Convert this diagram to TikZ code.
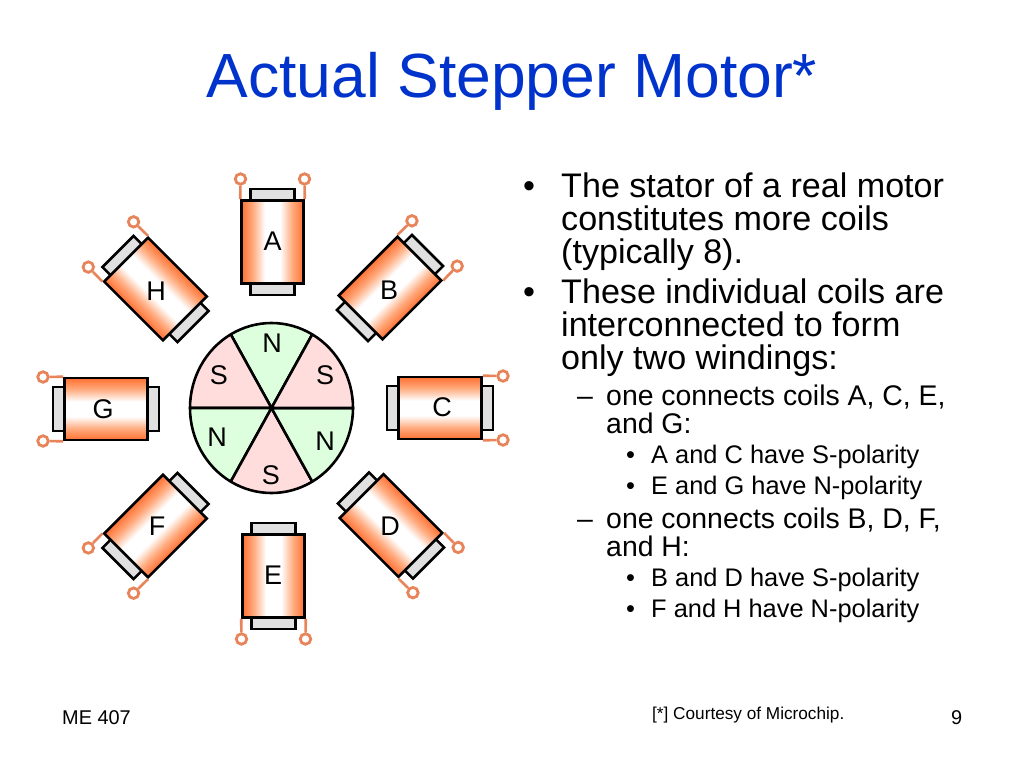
\documentclass[tikz,border=0pt]{standalone}
\usepackage{fontspec}
\setmainfont{Liberation Sans}
\definecolor{coilorg}{RGB}{255,112,50}
\definecolor{coilmid}{RGB}{255,170,125}
\definecolor{leadc}{RGB}{232,132,90}
\definecolor{coreg}{RGB}{224,224,224}
\definecolor{pinkc}{RGB}{255,221,221}
\definecolor{greenc}{RGB}{221,255,221}
\definecolor{titleblue}{RGB}{0,51,204}
\pgfdeclarehorizontalshading{coilshade}{100bp}{color(0bp)=(coilorg); color(25bp)=(coilorg); color(34bp)=(coilmid); color(44bp)=(white); color(56bp)=(white); color(66bp)=(coilmid); color(75bp)=(coilorg); color(100bp)=(coilorg)}
\tikzset{
  px/.style={font=\fontsize{#1}{#1}\selectfont},
  line/.style={inner sep=0pt,anchor=base west},
  coilbody/.style={draw=black,line width=2.6pt,minimum width=62pt,minimum height=83pt,inner sep=0pt,transform shape},
  corebar/.style={draw=black,line width=2.6pt,fill=coreg,minimum width=44pt,minimum height=106pt,inner sep=0pt,transform shape},
  terminal/.style={circle,draw=leadc,fill=white,line width=2.8pt,minimum size=10.5pt,inner sep=0pt},
  lead/.style={draw=leadc,line width=2.6pt},
  letter/.style={px=27,inner sep=0pt,text=black},
  sector/.style={draw=black,line width=2.6pt,line join=round},
  lvlone/.style={line,px=34.1},
  lvltwo/.style={line,px=28.4},
  lvlthree/.style={line,px=25.4},
  foot/.style={line,px=19.9}
}
\begin{document}
\begin{tikzpicture}[x=1pt,y=1pt]
\useasboundingbox (0,0) rectangle (1024,-768);
\fill[white] (0,0) rectangle (1024,-768);
\node[anchor=base,inner sep=0pt,px=62.4,text=titleblue] (title) at (512,-97) {Actual Stepper Motor*};
% coils
\foreach \n/\x/\y/\r in {A/272.5/242/0,B/390/288/-45,C/440/408/-90,D/391/525.5/-135,E/273.5/576/180,F/155.5/526/135,G/106/409/90,H/155.5/289/45}{
  \begin{scope}[shift={(\x,-\y)},rotate=\r]
    \node[corebar] (core\n) at (0,0) {};
    \node[terminal] (t\n a) at (-32,63) {};
    \node[terminal] (t\n b) at (32,63) {};
  \end{scope}
  \begin{scope}[transform canvas={shift={(\x,-\y)},rotate=\r}]
    \shade[shading=coilshade,shading angle=0] (-31,-41.5) rectangle (31,41.5);
  \end{scope}
  \begin{scope}[shift={(\x,-\y)},rotate=\r]
    \node[coilbody] (coil\n) at (0,0) {};
    \draw[lead] (coil\n.north west) -- (t\n a);
    \draw[lead] (coil\n.north east) -- (t\n b);
  \end{scope}
}
\node[letter] (la) at (272.5,-241) {A};
\node[letter] (lb) at (389,-290) {B};
\node[letter] (lc) at (442,-407) {C};
\node[letter] (ld) at (390,-526) {D};
\node[letter] (le) at (273,-575) {E};
\node[letter] (lf) at (157,-526) {F};
\node[letter] (lg) at (103,-409) {G};
\node[letter] (lh) at (156,-291) {H};
% rotor
\coordinate (rc) at (271.5,-408);
\foreach \a/\c in {60/greenc,120/pinkc,180/greenc,240/pinkc,300/greenc,0/pinkc}{
  \filldraw[sector,fill=\c] (rc) -- ++(\a:81.5 and 85) arc[start angle=\a,delta angle=60,x radius=81.5,y radius=85] -- cycle;
}
\node[letter] (r1) at (272,-343) {N};
\node[letter] (r2) at (219,-375) {S};
\node[letter] (r3) at (325,-375) {S};
\node[letter] (r4) at (217,-437) {N};
\node[letter] (r5) at (325,-441) {N};
\node[letter] (r6) at (271,-475) {S};
% text
\node[lvlone] (b1) at (523,-197) {•};
\node[lvlone] (t1) at (561,-197) {The stator of a real motor};
\node[lvlone] (t2) at (561,-230) {constitutes more coils};
\node[lvlone] (t3) at (561,-263) {(typically 8).};
\node[lvlone] (b2) at (523,-303) {•};
\node[lvlone] (t4) at (561,-303) {These individual coils are};
\node[lvlone] (t5) at (561,-336) {interconnected to form};
\node[lvlone] (t6) at (561,-369) {only two windings:};
\node[lvltwo] (d1) at (577,-405) {–};
\node[lvltwo] (t7) at (606,-405) {one connects coils A, C, E,};
\node[lvltwo] (t8) at (606,-433) {and G:};
\node[lvlthree] (b3) at (626,-463) {•};
\node[lvlthree] (t9) at (651,-463) {A and C have S-polarity};
\node[lvlthree] (b4) at (626,-494) {•};
\node[lvlthree] (t10) at (651,-494) {E and G have N-polarity};
\node[lvltwo] (d2) at (577,-528) {–};
\node[lvltwo] (t11) at (606,-528) {one connects coils B, D, F,};
\node[lvltwo] (t12) at (606,-556) {and H:};
\node[lvlthree] (b5) at (626,-586) {•};
\node[lvlthree] (t13) at (651,-586) {B and D have S-polarity};
\node[lvlthree] (b6) at (626,-617) {•};
\node[lvlthree] (t14) at (651,-617) {F and H have N-polarity};
\node[foot] (f1) at (62,-724) {ME 407};
\node[line,px=17.2] (f2) at (652,-719) {[*] Courtesy of Microchip.};
\node[foot] (f3) at (951,-724) {9};
\end{tikzpicture}
\end{document}
